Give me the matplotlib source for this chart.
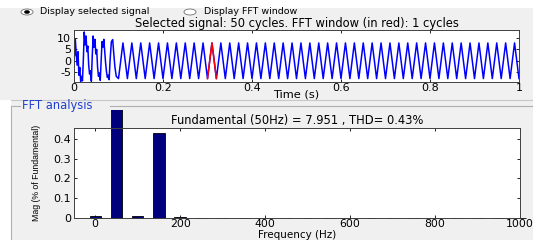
import matplotlib.pyplot as plt
import numpy as np
from matplotlib.lines import Line2D
from matplotlib.patches import Ellipse, Rectangle
from matplotlib.transforms import Bbox, TransformedBbox

W, H = 533, 240

# transient part of the selected signal (first 5 cycles)
transient_t = [0.000, 0.001, 0.003, 0.005, 0.007, 0.009, 0.011, 0.013, 0.015, 0.017,
               0.019, 0.021, 0.023, 0.025, 0.027, 0.029, 0.031, 0.033, 0.035, 0.037,
               0.039, 0.041, 0.043, 0.045, 0.047, 0.049, 0.051, 0.053, 0.055, 0.057,
               0.059, 0.061, 0.063, 0.065, 0.067, 0.069, 0.071, 0.073, 0.075, 0.077,
               0.079, 0.081, 0.084, 0.087, 0.089, 0.092, 0.095, 0.100]
transient_v = [13.9, 2.0, 9.5, 3.0, -2.0, 4.0, -6.5, -3.0, -9.3, -7.0,
               -9.0, 0.5, 12.8, 7.0, 11.0, 4.0, 6.5, -2.0, -6.0, -4.5,
               -9.2, 2.0, 11.0, 6.0, 9.5, 3.0, 5.0, -3.0, -7.0, -5.5,
               -8.8, 0.0, 8.5, 6.0, 9.5, 4.0, -1.0, -5.0, -7.5, -6.5,
               -8.5, 0.0, 8.5, 9.4, 4.0, -3.0, -7.0, -8.0]

# steady state: peak / trough of each of the remaining 45 cycles
steady_peaks = [7.9, 7.9, 7.9, 7.9, 7.9, 7.9, 7.9, 7.9, 7.9, 7.9,
                7.9, 7.9, 7.9, 7.9, 7.9, 7.9, 7.9, 7.9, 7.9, 7.9,
                7.9, 7.9, 7.9, 7.9, 7.9, 7.9, 7.9, 7.9, 7.9, 7.9,
                7.9, 7.9, 7.9, 7.9, 7.9, 7.9, 7.9, 7.9, 7.9, 7.9,
                7.9, 7.9, 7.9, 7.9, 7.9]
steady_troughs = [-8.0, -8.0, -8.0, -8.0, -8.0, -8.0, -8.0, -8.0, -8.0, -8.0,
                  -8.0, -8.0, -8.0, -8.0, -8.0, -8.0, -8.0, -8.0, -8.0, -8.0,
                  -8.0, -8.0, -8.0, -8.0, -8.0, -8.0, -8.0, -8.0, -8.0, -8.0,
                  -8.0, -8.0, -8.0, -8.0, -8.0, -8.0, -8.0, -8.0, -8.0, -8.0,
                  -8.0, -8.0, -8.0, -8.0, -8.0]

fft_window = (0.30, 0.32)

# FFT result, % of fundamental
harm_freq = [0, 50, 100, 150, 200, 250, 300, 350, 400, 450, 500,
             550, 600, 650, 700, 750, 800, 850, 900, 950, 1000]
harm_mag = [0.011, 100.0, 0.011, 0.43, 0.004, 0.002, 0.002, 0.002, 0.002, 0.002, 0.002,
            0.002, 0.002, 0.002, 0.002, 0.002, 0.002, 0.002, 0.002, 0.002, 0.002]

BG = '#f0f0f0'
FONT = 'DejaVu Sans'


def fx(px):
    return px / W


def fy(py):
    return 1 - py / H


def steady_signal():
    t, v = [], []
    for k, (p, q) in enumerate(zip(steady_peaks, steady_troughs)):
        t0 = 0.10 + 0.02 * k
        t += [t0 + 0.005, t0 + 0.010, t0 + 0.015, t0 + 0.020]
        v += [0.0, p, 0.0, q]
    return t, v


def style_axes(ax):
    ax.set_facecolor('white')
    ax.tick_params(direction='in', length=2.5, width=0.6, labelsize=8, pad=2,
                   top=True, right=True, colors='black')
    for s in ax.spines.values():
        s.set_linewidth(0.7)
        s.set_color('#404040')


def main():
    plt.rcParams['font.family'] = FONT
    plt.rcParams['axes.unicode_minus'] = False
    fig = plt.figure(figsize=(W / 100, H / 100), dpi=100, facecolor='white')

    # window background
    fig.add_artist(Rectangle((fx(0), 0), 1, fy(8), transform=fig.transFigure,
                             facecolor=BG, edgecolor='none', zorder=-10))
    fig.add_artist(Rectangle((0, 0), fx(11), fy(100), transform=fig.transFigure,
                             facecolor='white', edgecolor='none', zorder=-9))

    # radio buttons
    fig.add_artist(Ellipse((fx(27), fy(12)), fx(12), 6 / H, transform=fig.transFigure,
                           facecolor='white', edgecolor='#707070', lw=0.6))
    fig.add_artist(Ellipse((fx(27), fy(12)), fx(5), 3 / H, transform=fig.transFigure,
                           facecolor='black', edgecolor='black', lw=0.4))
    fig.text(fx(40), fy(12), 'Display selected signal', fontsize=6.8, va='center', ha='left')
    fig.add_artist(Ellipse((fx(190), fy(12)), fx(12), 6 / H, transform=fig.transFigure,
                           facecolor='white', edgecolor='#707070', lw=0.6))
    fig.text(fx(204), fy(12), 'Display FFT window', fontsize=6.8, va='center', ha='left')

    # separator line and FFT panel frame
    fig.add_artist(Line2D([fx(11), 1], [fy(100), fy(100)], transform=fig.transFigure,
                          color='#c8c8c8', lw=0.8))
    fig.add_artist(Line2D([fx(11), fx(20)], [fy(106), fy(106)], transform=fig.transFigure,
                          color='#b0b0b0', lw=0.8))
    fig.add_artist(Line2D([fx(110), 1], [fy(106), fy(106)], transform=fig.transFigure,
                          color='#b0b0b0', lw=0.8))
    fig.add_artist(Line2D([fx(11), fx(11)], [0, fy(106)], transform=fig.transFigure,
                          color='#b0b0b0', lw=0.8))
    fig.text(fx(22), fy(106), 'FFT analysis', fontsize=8.3, color='#1f3fd0',
             va='center', ha='left')

    # ---- signal axes
    ax1 = fig.add_axes([fx(74), fy(81.5), fx(445), (81.5 - 29.5) / H])
    style_axes(ax1)
    st, sv = steady_signal()
    t = np.array(transient_t + st)
    v = np.array(transient_v + sv)
    ax1.plot(t, v, color='#0000ff', lw=1.1)
    win = (t >= fft_window[0] - 1e-9) & (t <= fft_window[1] + 1e-9)
    ax1.plot(t[win], v[win], color='red', lw=1.1)
    ax1.set_xlim(0, 1)
    ax1.set_ylim(-9.3, 13.9)
    ax1.set_xticks([0, 0.2, 0.4, 0.6, 0.8, 1.0])
    ax1.set_xticklabels(['0', '0.2', '0.4', '0.6', '0.8', '1'])
    ax1.set_yticks([-5, 0, 5, 10])
    ax1.tick_params(axis='x', pad=1)
    ax1.set_xlabel('Time (s)', fontsize=8.2, labelpad=-2.5)
    ax1.set_title('Selected signal: 50 cycles. FFT window (in red): 1 cycles',
                  fontsize=8.3, pad=1.5)

    # ---- FFT axes
    top2, bot2 = 128, 218
    ax2 = fig.add_axes([fx(74), fy(bot2), fx(446), (bot2 - top2) / H])
    style_axes(ax2)
    bars = ax2.bar(harm_freq, harm_mag, width=27, color='#00007f',
                   edgecolor='black', linewidth=0.6)
    clip = TransformedBbox(Bbox([[0, 0], [1, fy(110)]]), fig.transFigure)
    for b in bars:
        b.set_clip_on(True)
        b.set_clip_box(clip)
    ax2.set_xlim(-50, 1000)
    ax2.set_ylim(0, 0.455)
    ax2.set_xticks([0, 200, 400, 600, 800, 1000])
    ax2.set_yticks([0, 0.1, 0.2, 0.3, 0.4])
    ax2.set_yticklabels(['0', '0.1', '0.2', '0.3', '0.4'])
    ax2.tick_params(axis='x', pad=1, labelsize=7.8)
    ax2.set_xlabel('Frequency (Hz)', fontsize=7.5, va='bottom')
    ax2.xaxis.set_label_coords(0.5, (bot2 - 239.5) / (bot2 - top2))
    ax2.set_ylabel('Mag (% of Fundamental)', fontsize=6.3, labelpad=9,
                   family=['Liberation Sans', 'DejaVu Sans'])
    ax2.set_title('Fundamental (50Hz) = 7.951 , THD= 0.43%', fontsize=8.3, pad=3)

    fig.savefig('out.png', dpi=100, facecolor='white')


if __name__ == '__main__':
    main()
